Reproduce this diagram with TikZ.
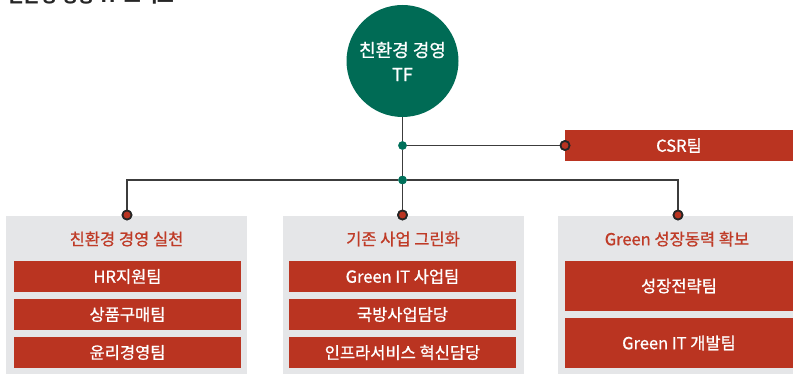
\documentclass[tikz,border=0pt]{standalone}
\usepackage{fontspec}
\setmainfont{Noto Sans CJK KR}
\newfontfamily\mfont{Noto Sans CJK KR}[FakeBold=0.9]
\definecolor{tfgreen}{HTML}{006B55}
\definecolor{dotgreen}{HTML}{00705A}
\definecolor{boxred}{HTML}{BA3421}
\definecolor{titlered}{HTML}{BF3B27}
\definecolor{panelgray}{HTML}{E5E6E8}
\definecolor{linegray}{HTML}{3C3C3C}
\tikzset{
  x=1pt, y=-1pt,
  conn/.style={draw=linegray, line width=1.3pt},
  gdot/.style={circle, fill=dotgreen, inner sep=0pt, minimum size=8.5pt},
  rdot/.style={circle, fill=boxred, draw=black!85, line width=1.7pt, inner sep=0pt, minimum size=9pt},
  redbox/.style={fill=boxred, text=white, inner sep=0pt, font=\mfont\fontsize{16.5}{19}\selectfont},
  panel/.style={fill=panelgray, inner sep=0pt},
  ptitle/.style={text=titlered, inner sep=0pt, font=\mfont\fontsize{16.5}{19}\selectfont},
}
\begin{document}
\begin{tikzpicture}
\useasboundingbox (0,0) rectangle (793,374);
\clip (0,0) rectangle (793,374);
% partially visible title
\node[anchor=base west, inner sep=0pt, text=black!85, font=\fontsize{18}{20}\selectfont\bfseries] (title) at (7,2.5) {친환경 경영 TF 조직도};
% panels
\path[panel] (6,216) rectangle (247,374);
\path[panel] (283,216) rectangle (524,374);
\path[panel] (558,216) rectangle (793,374);
% TF circle
\node[circle, fill=tfgreen, minimum size=112pt, inner sep=0pt] (tf) at (402.5,61) {};
\node[text=white, inner sep=0pt, font=\mfont\fontsize{18}{22}\selectfont] (tf1) at (402.5,50) {친환경 경영};
\node[text=white, inner sep=0pt, font=\mfont\fontsize{18}{22}\selectfont] (tf2) at (402.5,74.5) {TF};
% CSR box
\node[redbox, minimum width=228pt, minimum height=31pt] (csr) at (679,145.5) {CSR팀};
% junctions
\node[gdot] (j1) at (402.5,145.5) {};
\node[gdot] (j2) at (402.5,180) {};
\node[rdot] (d1) at (127,215) {};
\node[rdot] (d2) at (402.5,215) {};
\node[rdot] (d3) at (678,215) {};
\node[rdot] (dc) at (565,145.5) {};
% connectors
\draw[conn] (tf.south) -- (j1);
\draw[conn] (j1) -- (j2);
\draw[conn] (j2) -- (d2);
\draw[conn] (j1) -- (dc);
\draw[conn] (d1) |- (j2);
\draw[conn] (j2) -| (d3);
% redraw dots on top
\node[gdot] at (j1) {};
\node[gdot] at (j2) {};
\node[rdot] at (d1) {};
\node[rdot] at (d2) {};
\node[rdot] at (d3) {};
\node[rdot] at (dc) {};
% panel titles
\node[ptitle] (t1) at (126.5,239) {친환경 경영 실천};
\node[ptitle] (t2) at (403,239) {기존 사업 그린화};
\node[ptitle] (t3) at (677,239) {Green 성장동력 확보};
% left boxes
\node[redbox, minimum width=227pt, minimum height=31pt] (a1) at (127.5,276.5) {HR지원팀};
\node[redbox, minimum width=227pt, minimum height=31pt] (a2) at (127.5,314.5) {상품구매팀};
\node[redbox, minimum width=227pt, minimum height=31pt] (a3) at (127.5,352.5) {윤리경영팀};
% middle boxes
\node[redbox, minimum width=227pt, minimum height=31pt] (b1) at (402.5,276.5) {Green IT 사업팀};
\node[redbox, minimum width=227pt, minimum height=31pt] (b2) at (402.5,314.5) {국방사업담당};
\node[redbox, minimum width=227pt, minimum height=31pt] (b3) at (402.5,352.5) {인프라서비스 혁신담당};
% right boxes
\node[redbox, minimum width=228pt, minimum height=50pt] (c1) at (679,286) {성장전략팀};
\node[redbox, minimum width=228pt, minimum height=50pt] (c2) at (679,343) {Green IT 개발팀};
\end{tikzpicture}
\end{document}
